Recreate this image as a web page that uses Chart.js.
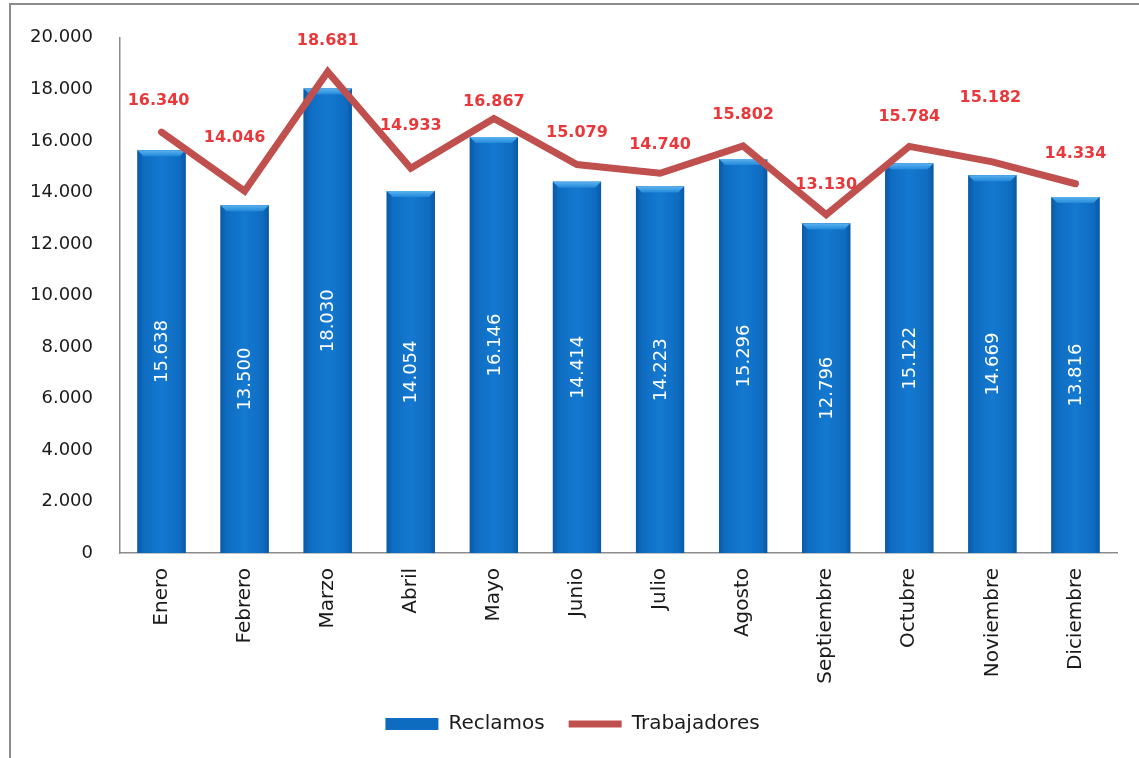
<!DOCTYPE html>
<html>
<head>
<meta charset="utf-8">
<script src="https://cdn.jsdelivr.net/npm/chart.js@4"></script>
<style>
  html, body { margin: 0; padding: 0; background: #fff; }
  body { width: 1139px; height: 758px; position: relative; overflow: hidden; }
  #frame { position: absolute; left: 9px; top: 3px; width: 1200px; height: 800px;
           border-top: 2px solid #8c8c8c; border-left: 2px solid #8c8c8c; }
  #wrap { position: absolute; left: 0; top: 0; width: 1139px; height: 758px; }
</style>
</head>
<body>
<div id="frame"></div>
<div id="wrap"><canvas id="myChart"></canvas></div>
<script>
const meses = ['Enero', 'Febrero', 'Marzo', 'Abril', 'Mayo', 'Junio', 'Julio', 'Agosto',
               'Septiembre', 'Octubre', 'Noviembre', 'Diciembre'];
const reclamos = [15638, 13500, 18030, 14054, 16146, 14414, 14223, 15296, 12796, 15122, 14669, 13816];
const trabajadores = [16340, 14046, 18681, 14933, 16867, 15079, 14740, 15802, 13130, 15784, 15182, 14334];
const yTicks = [0, 2000, 4000, 6000, 8000, 10000, 12000, 14000, 16000, 18000, 20000];

// décalage des étiquettes rouges au-dessus de la ligne (px), comme dans l'original
const labelLift = [31, 53, 31, 42, 17, 32, 28, 31, 30, 30, 64, 30];
const labelShift = [-3, -10, 0, 0, 0, 0, 0, 0, 0, 0, -2, 0];

const fmt = v => v.toLocaleString('de-DE');

// relief des barres + étiquettes
const barLook = {
  id: 'barLook',
  afterDatasetDraw(chart, args) {
    if (args.index !== 0) return;
    const ctx = chart.ctx;
    args.meta.data.forEach((bar, i) => {
      const w = bar.width, x0 = bar.x - w / 2, x1 = bar.x + w / 2;
      const top = bar.y, base = bar.base;
      const g = ctx.createLinearGradient(x0, 0, x1, 0);
      g.addColorStop(0, '#0a58a3');
      g.addColorStop(0.12, '#0e6cc0');
      g.addColorStop(0.5, '#1479d0');
      g.addColorStop(0.88, '#0e6cc0');
      g.addColorStop(1, '#0a58a3');
      ctx.save();
      ctx.fillStyle = g;
      ctx.fillRect(x0, top, w, base - top);
      // biseau du haut
      const b = 6;
      const g2 = ctx.createLinearGradient(0, top, 0, top + b);
      g2.addColorStop(0, '#5bb3ef');
      g2.addColorStop(1, '#2388da');
      ctx.fillStyle = g2;
      ctx.beginPath();
      ctx.moveTo(x0, top);
      ctx.lineTo(x1, top);
      ctx.lineTo(x1 - b, top + b);
      ctx.lineTo(x0 + b, top + b);
      ctx.closePath();
      ctx.fill();
      // valeur en blanc, verticale
      ctx.translate(bar.x, (top + base) / 2);
      ctx.rotate(-Math.PI / 2);
      ctx.fillStyle = '#ffffff';
      ctx.font = '18px "DejaVu Sans"';
      ctx.textAlign = 'center';
      ctx.textBaseline = 'middle';
      ctx.fillText(fmt(reclamos[i]), 0, 1);
      ctx.restore();
    });
  },
  afterDatasetsDraw(chart) {
    const ctx = chart.ctx;
    const meta = chart.getDatasetMeta(1);
    ctx.save();
    ctx.fillStyle = '#e8383b';
    ctx.font = 'bold 16px "DejaVu Sans"';
    ctx.textAlign = 'center';
    ctx.textBaseline = 'middle';
    meta.data.forEach((pt, i) => {
      ctx.fillText(fmt(trabajadores[i]), pt.x + labelShift[i], pt.y - labelLift[i]);
    });
    ctx.restore();
  }
};

new Chart(
  document.getElementById('myChart'),
  {
    data: {
      labels: meses,
      datasets: [
        {
          type: 'bar',
          label: 'Reclamos',
          data: reclamos,
          backgroundColor: '#0e6cc0',
          borderWidth: 0,
          barPercentage: 0.58,
          categoryPercentage: 1,
          pointStyle: 'rect',
          order: 2
        },
        {
          type: 'line',
          label: 'Trabajadores',
          data: trabajadores,
          borderColor: '#c0504d',
          backgroundColor: '#c0504d',
          borderWidth: 7,
          borderCapStyle: 'round',
          borderJoinStyle: 'miter',
          tension: 0,
          pointRadius: 0,
          pointHoverRadius: 0,
          pointStyle: 'line',
          order: 1
        }
      ]
    },
    options: {
      responsive: true,
      maintainAspectRatio: false,
      animation: false,
      layout: {
        padding: { left: 28, right: 22, top: 34, bottom: 14 }
      },
      scales: {
        x: {
          grid: { display: false, drawTicks: false },
          border: { display: true, color: '#8c8c8c', width: 1.5 },
          ticks: {
            color: '#1a1a1a',
            font: { family: 'DejaVu Sans', size: 20 },
            minRotation: 90,
            maxRotation: 90,
            padding: 15,
            autoSkip: false
          },
          afterFit: scale => { scale.height = 137; }
        },
        y: {
          min: 0,
          max: 20000,
          afterBuildTicks: scale => { scale.ticks = yTicks.map(v => ({ value: v })); },
          grid: { display: false, drawTicks: false },
          border: { display: true, color: '#8c8c8c', width: 1.5 },
          ticks: {
            color: '#1a1a1a',
            font: { family: 'DejaVu Sans', size: 18 },
            padding: 27,
            callback: v => fmt(v)
          },
          afterFit: scale => { scale.width = 92; }
        }
      },
      plugins: {
        legend: {
          position: 'bottom',
          labels: {
            usePointStyle: true,
            pointStyleWidth: 53,
            boxHeight: 12,
            padding: 24,
            color: '#1a1a1a',
            font: { family: 'DejaVu Sans', size: 20 },
            sort: (a, b) => a.datasetIndex - b.datasetIndex
          }
        },
        tooltip: { enabled: false }
      }
    },
    plugins: [barLook]
  }
);
</script>
</body>
</html>
